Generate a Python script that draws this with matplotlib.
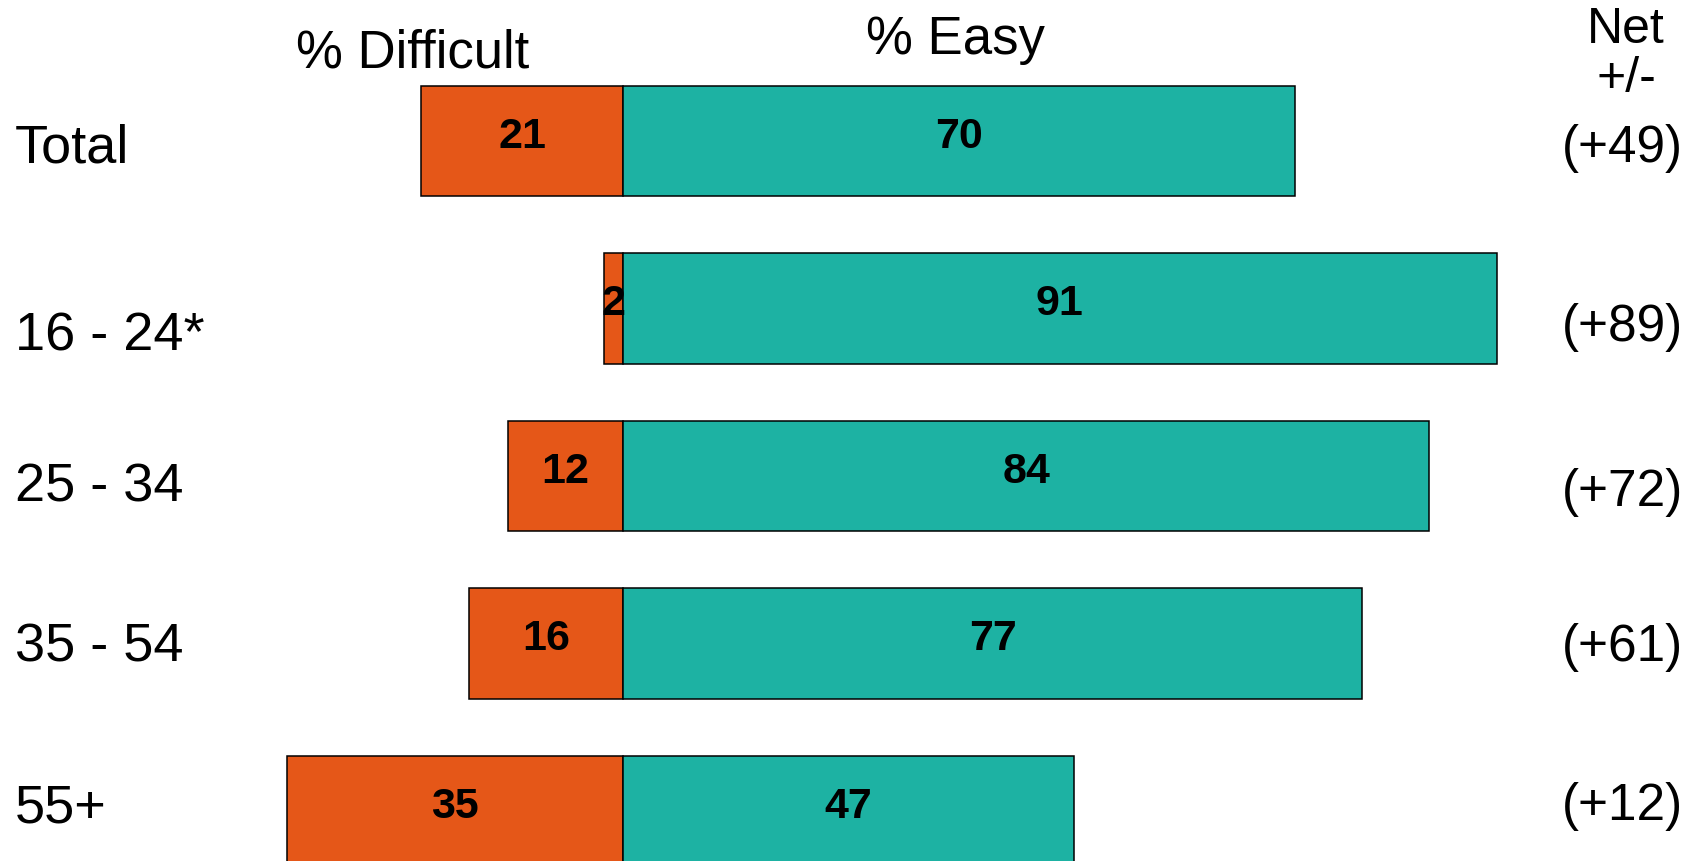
import matplotlib
matplotlib.use("Agg")
import matplotlib.pyplot as plt
import matplotlib.transforms as mtransforms

plt.rcParams['font.family'] = ['Liberation Sans', 'DejaVu Sans']

# Survey results by age band
groups = ["Total", "16 - 24*", "25 - 34", "35 - 54", "55+"]
difficult = [21, 2, 12, 16, 35]
easy = [70, 91, 84, 77, 47]
net = [e - d for e, d in zip(easy, difficult)]

orange = "#E55718"
teal = "#1DB2A3"

W, H = 1699, 862
fig = plt.figure(figsize=(W / 100, H / 100), dpi=100)
ax = fig.add_axes([0, 0, 1, 1])

# x in percentage points, zero line at ~623px, ~9.6px per point
px_per_pt = 9.6
zero_px = 623
ax.set_xlim(-zero_px / px_per_pt, (W - zero_px) / px_per_pt)
# rows every ~167px, first row centred at ~142px from the top
row_px = 167.5
first_px = 142
ax.set_ylim((H - first_px) / row_px, -first_px / row_px)
ax.axis("off")

rows = list(range(len(groups)))
bar_h = 0.66
ax.barh(rows, [-d for d in difficult], height=bar_h, color=orange,
        edgecolor="black", linewidth=1.1)
ax.barh(rows, easy, height=bar_h, color=teal,
        edgecolor="black", linewidth=1.1)

for i in rows:
    ax.text(-difficult[i] / 2, i - 0.03, str(difficult[i]), ha="center", va="center",
            fontsize=31, fontweight="bold", color="black")
    ax.text(easy[i] / 2, i - 0.03, str(easy[i]), ha="center", va="center",
            fontsize=31, fontweight="bold", color="black")

# group names on the left, net scores on the right
trans = mtransforms.blended_transform_factory(ax.transAxes, ax.transData)
label_nudge = {0: 0.04, 1: 0.16, 2: 0.06, 3: 0.02, 4: -0.02}
net_nudge = {0: 0.04, 1: 0.11, 2: 0.09, 3: 0.02, 4: -0.03}
for i, g in enumerate(groups):
    ax.text(15 / W, i + label_nudge.get(i, 0), g, transform=trans,
            ha="left", va="center", fontsize=39)
    ax.text(1683 / W, i + net_nudge.get(i, 0), f"(+{net[i]})", transform=trans,
            ha="right", va="center", fontsize=37)

# column headers
fig.text(413 / W, 1 - 54 / H, "% Difficult", ha="center", va="center", fontsize=38)
fig.text(955 / W, 1 - 40 / H, "% Easy", ha="center", va="center", fontsize=38)
fig.text(1626 / W, 1 - 30 / H, "Net", ha="center", va="center", fontsize=36)
fig.text(1626 / W, 1 - 79 / H, "+/-", ha="center", va="center", fontsize=36)

fig.savefig("out.png", dpi=100, facecolor="white")
